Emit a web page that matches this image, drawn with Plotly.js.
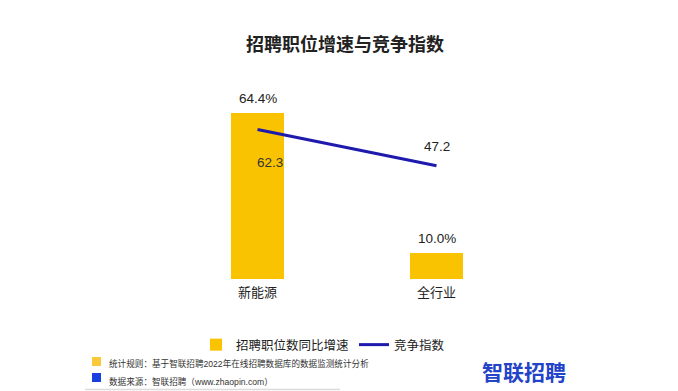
<!DOCTYPE html>
<html>
<head>
<meta charset="utf-8">
<script src="https://cdn.plot.ly/plotly-3.0.1.min.js"></script>
<style>html,body{margin:0;padding:0;background:#fff;}#chart{width:678px;height:391px;}</style>
</head>
<body>
<div id="chart"></div>
<script>
const categories = ["新能源", "全行业"];
const growthRate = [64.4, 10.0];
const competitionIndex = [62.3, 47.2];
const seriesNames = ["招聘职位数同比增速", "竞争指数"];
const chartTitle = "招聘职位增速与竞争指数";
const footnotes = ["统计规则：基于智联招聘2022年在线招聘数据库的数据监测统计分析", "数据来源：智联招聘（www.zhaopin.com）"];
const brand = "智联招聘";

const W = 678, H = 391;
const mL = 168, mR = 152, mT = 100, mB = 112;
const pw = W - mL - mR, ph = H - mT - mB;
const px = x => (x - mL) / pw;
const py = y => (H - mB - y) / ph;

const FONT = "Liberation Sans, Noto Sans CJK SC, sans-serif";
const YELLOW = "#F9C301";
const NAVY = "#1F1AAE";

const bar = {
  type: "bar", x: categories, y: growthRate, name: seriesNames[0],
  marker: {color: YELLOW}, width: 0.3, hoverinfo: "skip"
};
const line = {
  type: "scatter", mode: "lines", x: categories, y: competitionIndex, name: seriesNames[1],
  yaxis: "y2", line: {color: NAVY, width: 3}, hoverinfo: "skip"
};

const annotations = growthRate.map((v, i) => ({
  x: categories[i], y: v, xref: "x", yref: "y", text: v.toFixed(1) + "%", showarrow: false,
  yanchor: "middle", yshift: 15, font: {size: 13.5, color: "#222", family: FONT}
}));
const shifts = [[12, -33, "#333"], [0, 19, "#222"]];
competitionIndex.forEach((v, i) => annotations.push({
  x: categories[i], y: v, xref: "x", yref: "y2", text: v.toFixed(1), showarrow: false,
  xshift: shifts[i][0], yshift: shifts[i][1], yanchor: "middle",
  font: {size: 13.5, color: shifts[i][2], family: FONT}
}));
annotations.push(
  {xref: "paper", yref: "paper", x: px(107), y: py(363), xanchor: "left", yanchor: "middle", text: footnotes[0], showarrow: false, font: {size: 8.6, color: "#333", family: FONT}},
  {xref: "paper", yref: "paper", x: px(107), y: py(381), xanchor: "left", yanchor: "middle", text: footnotes[1], showarrow: false, font: {size: 8.6, color: "#333", family: FONT}},
  {xref: "paper", yref: "paper", x: px(524), y: py(371), xanchor: "center", yanchor: "middle", text: "<b>" + brand + "</b>", showarrow: false, font: {size: 21, color: "#2343C8", family: "Noto Sans CJK SC, sans-serif"}}
);

const shapes = [
  {type: "rect", xref: "paper", yref: "paper", x0: px(92), x1: px(101), y0: py(357), y1: py(366), fillcolor: "#F9C93A", line: {width: 0}},
  {type: "rect", xref: "paper", yref: "paper", x0: px(92), x1: px(101), y0: py(373), y1: py(382), fillcolor: "#1A3FE0", line: {width: 0}},
  {type: "line", xref: "paper", yref: "paper", x0: px(85), x1: px(340), y0: py(389.5), y1: py(389.5), line: {color: "#dcdcdc", width: 1.5}}
];

const layout = {
  width: W, height: H,
  margin: {l: mL, r: mR, t: mT, b: mB, pad: 0},
  paper_bgcolor: "#fff", plot_bgcolor: "#fff",
  title: {text: "<b>" + chartTitle + "</b>", x: 345 / W, xanchor: "center", y: 1 - 45 / H, yanchor: "middle",
    font: {size: 18, color: "#222", family: "Noto Sans CJK SC, sans-serif"}},
  xaxis: {type: "category", range: [-0.5, 1.5], showgrid: false, zeroline: false, showline: false,
    ticks: "", ticklabelstandoff: 4, tickfont: {size: 13, color: "#222", family: FONT}},
  yaxis: {range: [0, ph / 2.573], visible: false, showgrid: false, zeroline: false},
  yaxis2: {range: [0, ph / 2.40], overlaying: "y", side: "right", visible: false, showgrid: false, zeroline: false},
  showlegend: true,
  legend: {orientation: "h", x: px(323), xanchor: "center", y: py(345), yanchor: "middle",
    font: {size: 12.5, color: "#222", family: FONT}, itemwidth: 30, tracegroupgap: 0},
  annotations: annotations, shapes: shapes, bargap: 0
};

Plotly.newPlot("chart", [bar, line], layout, {displayModeBar: false, staticPlot: true});
</script>
</body>
</html>
